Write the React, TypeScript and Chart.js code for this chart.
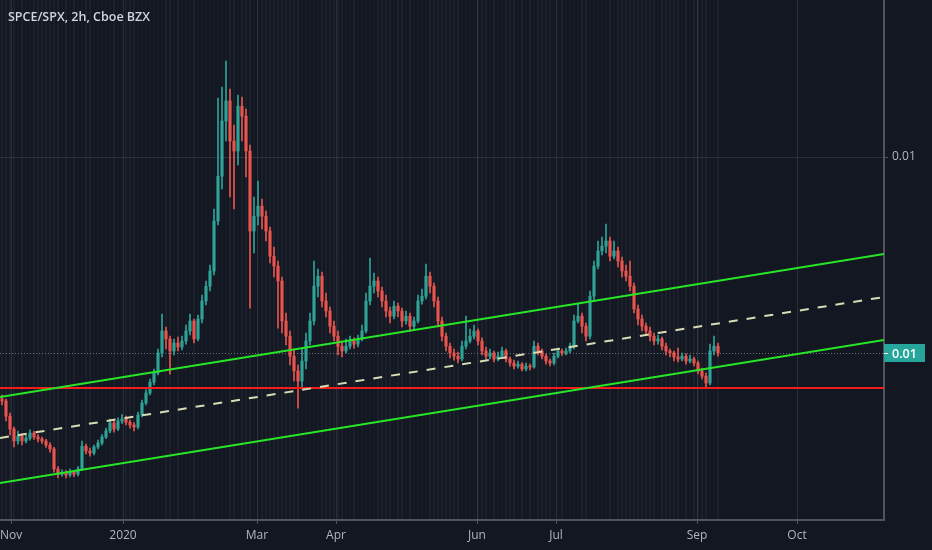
import React, { useEffect, useRef } from "react";
import { Chart, registerables } from "chart.js";

Chart.register(...registerables);

// ---- Data (SPCE/SPX ratio, 2h candles, sampled) ----
const opens = [
  0.00395,0.0039,0.00352,0.0032,0.0029,0.00302,0.0029,0.00297,0.0031,0.003,
  0.00295,0.0029,0.0028,0.0027,0.0022,0.00207,0.0021,0.00205,0.00212,0.00207,
  0.0022,0.00277,0.00265,0.0026,0.00275,0.00285,0.003,0.00315,0.00335,0.0032,
  0.0034,0.00345,0.00337,0.0033,0.00325,0.00355,0.00385,0.0041,0.00437,0.0046,
  0.0051,0.00565,0.00545,0.00515,0.00535,0.00525,0.0054,0.00565,0.0059,0.00545,
  0.00595,0.0064,0.00677,0.00715,0.0084,0.00952,0.0109,0.0114,0.0104,0.01015,
  0.01127,0.01102,0.01015,0.00815,0.00852,0.00877,0.00852,0.00815,0.00752,0.00727,
  0.0069,0.0059,0.00552,0.00502,0.00465,0.0044,0.0049,0.0054,0.0059,0.00677,
  0.00702,0.0064,0.00615,0.00577,0.00552,0.00527,0.00515,0.00527,0.0054,0.00532,
  0.00545,0.00565,0.0064,0.00677,0.0069,0.00665,0.0064,0.00615,0.00602,0.00627,
  0.00615,0.0059,0.00602,0.00577,0.0059,0.0064,0.00652,0.00702,0.00677,0.0064,
  0.0059,0.00552,0.00527,0.0051,0.00502,0.00495,0.00527,0.0054,0.00552,0.00565,
  0.0054,0.00515,0.00502,0.0051,0.00495,0.00502,0.00515,0.00495,0.00485,0.00477,
  0.00482,0.0047,0.00477,0.00475,0.00527,0.00515,0.00502,0.0049,0.00485,0.00502,
  0.00515,0.0051,0.00515,0.00527,0.0059,0.00602,0.00577,0.00552,0.00652,0.00727,
  0.00765,0.00777,0.0079,0.00752,0.00765,0.0074,0.00715,0.00702,0.00677,0.0062,
  0.00595,0.00577,0.00565,0.00552,0.0054,0.00545,0.00527,0.00515,0.0051,0.005,
  0.00495,0.00502,0.0049,0.00495,0.00485,0.00465,0.00452,0.00435,0.00515,0.00527,
];

const closes = [
  0.0039,0.00352,0.0032,0.0029,0.00302,0.0029,0.00297,0.0031,0.003,0.00295,
  0.0029,0.0028,0.0027,0.0022,0.00207,0.0021,0.00205,0.00212,0.00207,0.0022,
  0.00277,0.00265,0.0026,0.00275,0.00285,0.003,0.00315,0.00335,0.0032,0.0034,
  0.00345,0.00337,0.0033,0.00325,0.00355,0.00385,0.0041,0.00437,0.0046,0.0051,
  0.00565,0.00545,0.00515,0.00535,0.00525,0.0054,0.00565,0.0059,0.00545,0.00595,
  0.0064,0.00677,0.00715,0.0084,0.00952,0.0109,0.0114,0.0104,0.01015,0.01127,
  0.01102,0.01015,0.00815,0.00852,0.00877,0.00852,0.00815,0.00752,0.00727,0.0069,
  0.0059,0.00552,0.00502,0.00465,0.0044,0.0049,0.0054,0.0059,0.00677,0.00702,
  0.0064,0.00615,0.00577,0.00552,0.00527,0.00515,0.00527,0.0054,0.00532,0.00545,
  0.00565,0.0064,0.00677,0.0069,0.00665,0.0064,0.00615,0.00602,0.00627,0.00615,
  0.0059,0.00602,0.00577,0.0059,0.0064,0.00652,0.00702,0.00677,0.0064,0.0059,
  0.00552,0.00527,0.0051,0.00502,0.00495,0.00527,0.0054,0.00552,0.00565,0.0054,
  0.00515,0.00502,0.0051,0.00495,0.00502,0.00515,0.00495,0.00485,0.00477,0.00482,
  0.0047,0.00477,0.00475,0.00527,0.00515,0.00502,0.0049,0.00485,0.00502,0.00515,
  0.0051,0.00515,0.00527,0.0059,0.00602,0.00577,0.00552,0.00652,0.00727,0.00765,
  0.00777,0.0079,0.00752,0.00765,0.0074,0.00715,0.00702,0.00677,0.0062,0.00595,
  0.00577,0.00565,0.00552,0.0054,0.00545,0.00527,0.00515,0.0051,0.005,0.00495,
  0.00502,0.0049,0.00495,0.00485,0.00465,0.00452,0.00435,0.00515,0.00527,0.0051,
];

const highs = [
  0.00405,0.00395,0.0036,0.00325,0.00315,0.00308,0.00305,0.00318,0.00314,0.00306,
  0.003,0.00294,0.00286,0.00274,0.00226,0.00218,0.00216,0.0022,0.00216,0.00226,
  0.0029,0.00282,0.00272,0.0028,0.00292,0.00306,0.00322,0.00345,0.0034,0.00348,
  0.00356,0.00352,0.00342,0.00336,0.00362,0.00392,0.00418,0.00445,0.0047,0.0052,
  0.00607,0.00575,0.00552,0.00545,0.0055,0.00552,0.0058,0.00607,0.00595,0.00605,
  0.00655,0.0069,0.0073,0.0087,0.01147,0.01175,0.0124,0.0117,0.0108,0.01155,
  0.0115,0.0112,0.0103,0.009,0.0094,0.00895,0.00865,0.00825,0.00775,0.0074,
  0.007,0.0061,0.00565,0.0052,0.0048,0.0052,0.0056,0.0061,0.0074,0.0072,
  0.00712,0.0066,0.00625,0.0059,0.00565,0.0054,0.00545,0.00552,0.00548,0.00555,
  0.0058,0.0066,0.00747,0.0071,0.007,0.00675,0.00655,0.00625,0.0064,0.00635,
  0.00622,0.00615,0.0061,0.006,0.00655,0.0067,0.00732,0.00712,0.00685,0.0065,
  0.006,0.0056,0.00535,0.0052,0.00512,0.0054,0.00602,0.0057,0.0058,0.0057,
  0.00548,0.00525,0.0052,0.00515,0.00512,0.00525,0.0052,0.005,0.00492,0.0049,
  0.00486,0.00485,0.00482,0.0054,0.00535,0.0052,0.00508,0.00495,0.0051,0.00522,
  0.0052,0.00522,0.00535,0.00605,0.00632,0.0061,0.00585,0.00665,0.0074,0.0079,
  0.008,0.00832,0.008,0.0079,0.00775,0.0075,0.0073,0.0074,0.00685,0.0063,
  0.00605,0.00585,0.00575,0.0056,0.00555,0.0055,0.00535,0.0052,0.00515,0.00522,
  0.0051,0.00508,0.00505,0.005,0.0049,0.00472,0.0046,0.00532,0.00552,0.00535,
];

const lows = [
  0.0038,0.0034,0.00305,0.00275,0.00282,0.0028,0.00285,0.00292,0.00294,0.00288,
  0.00284,0.00274,0.00262,0.00212,0.00198,0.00202,0.00198,0.002,0.00201,0.00203,
  0.00216,0.00258,0.00252,0.00255,0.0027,0.0028,0.00296,0.0031,0.00312,0.00316,
  0.00334,0.0033,0.00322,0.00315,0.0032,0.0035,0.0038,0.00405,0.0043,0.00455,
  0.005,0.0052,0.00457,0.00505,0.00515,0.00518,0.00532,0.00555,0.00535,0.0054,
  0.00585,0.0063,0.00665,0.00705,0.0083,0.0092,0.0104,0.009,0.0087,0.0098,
  0.0104,0.0095,0.00622,0.0076,0.0083,0.0082,0.0079,0.00735,0.007,0.00572,
  0.0056,0.0053,0.0048,0.0044,0.00372,0.0042,0.0047,0.0053,0.0058,0.0065,
  0.00625,0.006,0.0056,0.0054,0.00505,0.005,0.0051,0.0052,0.00522,0.00525,
  0.0054,0.0056,0.0063,0.0066,0.0065,0.00625,0.006,0.00585,0.00595,0.006,
  0.00575,0.00582,0.00565,0.0057,0.00585,0.00632,0.00645,0.0066,0.00625,0.00575,
  0.0054,0.00515,0.00498,0.00492,0.00485,0.0049,0.0052,0.00535,0.00545,0.0053,
  0.00505,0.00495,0.00495,0.00488,0.0049,0.00498,0.00488,0.00477,0.0047,0.00472,
  0.00465,0.00465,0.00468,0.00472,0.00505,0.00495,0.00482,0.00478,0.0048,0.00498,
  0.00504,0.00505,0.0051,0.0052,0.00585,0.0056,0.0054,0.00545,0.0064,0.0072,
  0.00755,0.0076,0.0074,0.00745,0.00725,0.007,0.0069,0.00665,0.0061,0.0058,
  0.00565,0.00555,0.0054,0.0053,0.00532,0.00518,0.00505,0.005,0.0049,0.00488,
  0.0049,0.00482,0.00485,0.00478,0.00458,0.00445,0.00422,0.0043,0.00505,0.00502,
];

// x axis: bar index, month labels at bar positions
const tickLabels = ["Nov", "2020", "Mar", "Apr", "Jun", "Jul", "Sep", "Oct"];
const tickBars = [2.25, 30.25, 63.75, 83.5, 118.75, 138.5, 173.75, 198.75];
const barRange = [-0.5, 220.5];

// y axis
const yRange = [0.000925, 0.013925];
const gridValues = [0.01];

// drawn lines: [value at left edge, value at right edge]
const upperChannel = [0.004, 0.007575];
const midChannel = [0.002975, 0.0065];
const lowerChannel = [0.00185, 0.005425];
const supportLevel = 0.004225;

const title = "SPCE/SPX, 2h, Cboe BZX";

const BG = "#131722";
const UP = "#2fa397";
const DOWN = "#e8564f";
const FONT = "'Open Sans', 'Noto Sans', sans-serif";

export default function App() {
  const ref = useRef<HTMLCanvasElement>(null);

  useEffect(() => {
    const colors = opens.map((o, i) => (closes[i] >= o ? UP : DOWN));
    const lastClose = closes[closes.length - 1];

    const lineData = (pair: number[]) => [
      { x: barRange[0], y: pair[0] },
      { x: barRange[1], y: pair[1] },
    ];

    const overlay = {
      id: "overlay",
      beforeDraw(chart: any) {
        const { ctx, width, height } = chart;
        ctx.save();
        ctx.fillStyle = BG;
        ctx.fillRect(0, 0, width, height);
        ctx.restore();
      },
      beforeDatasetsDraw(chart: any) {
        const { ctx, chartArea, scales } = chart;
        ctx.save();
        // faint session stripes behind each bar
        for (let i = 0; i < opens.length; i++) {
          const px = scales.x.getPixelForValue(i);
          ctx.fillStyle =
            closes[i] < opens[i] ? "rgba(255,255,255,0.04)" : "rgba(255,255,255,0.016)";
          ctx.fillRect(Math.round(px) - 1, chartArea.top, 2, chartArea.bottom - chartArea.top);
        }
        const y = Math.round(scales.y.getPixelForValue(lastClose)) + 0.5;
        ctx.strokeStyle = "#6a6d78";
        ctx.lineWidth = 1;
        ctx.setLineDash([1, 2]);
        ctx.beginPath();
        ctx.moveTo(chartArea.left, y);
        ctx.lineTo(chartArea.right, y);
        ctx.stroke();
        ctx.restore();
      },
      afterDraw(chart: any) {
        const { ctx, chartArea, scales } = chart;
        const y = Math.round(scales.y.getPixelForValue(lastClose));
        const x0 = chartArea.right;
        ctx.save();
        ctx.fillStyle = "#26a69a";
        ctx.fillRect(x0, y - 9, 41, 18);
        ctx.strokeStyle = "#ffffff";
        ctx.lineWidth = 1;
        ctx.beginPath();
        ctx.moveTo(x0, y + 0.5);
        ctx.lineTo(x0 + 4, y + 0.5);
        ctx.stroke();
        ctx.fillStyle = "#ffffff";
        ctx.font = `600 12.5px ${FONT}`;
        ctx.textBaseline = "middle";
        ctx.textAlign = "left";
        ctx.fillText(lastClose.toFixed(2), x0 + 8, y + 1);
        ctx.restore();
      },
    };

    const chart = new Chart(ref.current as HTMLCanvasElement, {
      type: "bar",
      data: {
        datasets: [
          {
            type: "line",
            data: lineData(upperChannel),
            borderColor: "#27e627",
            borderWidth: 2,
            pointRadius: 0,
            order: 0,
          } as any,
          {
            type: "line",
            data: lineData(lowerChannel),
            borderColor: "#27e627",
            borderWidth: 2,
            pointRadius: 0,
            order: 0,
          } as any,
          {
            type: "line",
            data: lineData(midChannel),
            borderColor: "#d8dbb4",
            borderWidth: 2,
            borderDash: [9, 9],
            pointRadius: 0,
            order: 0,
          } as any,
          {
            type: "line",
            data: [
              { x: barRange[0], y: supportLevel },
              { x: barRange[1], y: supportLevel },
            ],
            borderColor: "#f41c1c",
            borderWidth: 2,
            pointRadius: 0,
            order: 0,
          } as any,
          {
            type: "bar",
            data: lows.map((l, i) => ({ x: i, y: [l, highs[i]] })),
            backgroundColor: colors,
            barThickness: 1,
            grouped: false,
            order: 2,
          } as any,
          {
            type: "bar",
            data: opens.map((o, i) => ({ x: i, y: [o, closes[i]] })),
            backgroundColor: colors,
            barThickness: 2.5,
            minBarLength: 1,
            grouped: false,
            order: 1,
          } as any,
        ],
      },
      options: {
        responsive: false,
        animation: false,
        events: [],
        layout: { padding: 0 },
        plugins: {
          legend: { display: false },
          tooltip: { enabled: false },
        },
        scales: {
          x: {
            type: "linear",
            min: barRange[0],
            max: barRange[1],
            offset: false,
            grid: {
              offset: false,
              color: "#2a2e39",
              lineWidth: 1,
              drawTicks: true,
              tickLength: 4,
              tickColor: "#50535e",
            },
            border: { display: true, color: "#50535e", width: 2 },
            afterBuildTicks: (scale: any) => {
              scale.ticks = tickBars.map((v) => ({ value: v }));
            },
            afterFit: (scale: any) => {
              scale.height = 30;
              scale.paddingLeft = 0;
              scale.paddingRight = 0;
            },
            ticks: {
              autoSkip: false,
              maxRotation: 0,
              padding: 4,
              color: "#b2b5be",
              font: { family: FONT, size: 12 },
              callback: (_v: any, i: number) => tickLabels[i],
            },
          },
          y: {
            type: "linear",
            position: "right",
            min: yRange[0],
            max: yRange[1],
            grid: {
              color: "#2a2e39",
              lineWidth: 1,
              drawTicks: true,
              tickLength: 4,
              tickColor: "#50535e",
            },
            border: { display: true, color: "#50535e", width: 2 },
            afterBuildTicks: (scale: any) => {
              scale.ticks = gridValues.map((v) => ({ value: v }));
            },
            afterFit: (scale: any) => {
              scale.width = 48;
              scale.paddingTop = 0;
              scale.paddingBottom = 0;
            },
            ticks: {
              padding: 4,
              color: "#b2b5be",
              font: { family: FONT, size: 12 },
              callback: (v: any) => Number(v).toFixed(2),
            },
          },
        },
      },
      plugins: [overlay],
    } as any);

    return () => chart.destroy();
  }, []);

  return (
    <div
      style={{
        position: "fixed",
        left: 0,
        top: 0,
        width: 932,
        height: 550,
        background: BG,
        overflow: "hidden",
      }}
    >
      <canvas ref={ref} width={932} height={550} style={{ display: "block" }} />
      <div
        style={{
          position: "absolute",
          left: 8,
          top: 8,
          fontFamily: FONT,
          fontWeight: 600,
          fontSize: 12.5,
          lineHeight: "18px",
          color: "#d1d4dc",
          whiteSpace: "nowrap",
        }}
      >
        {title}
      </div>
    </div>
  );
}
